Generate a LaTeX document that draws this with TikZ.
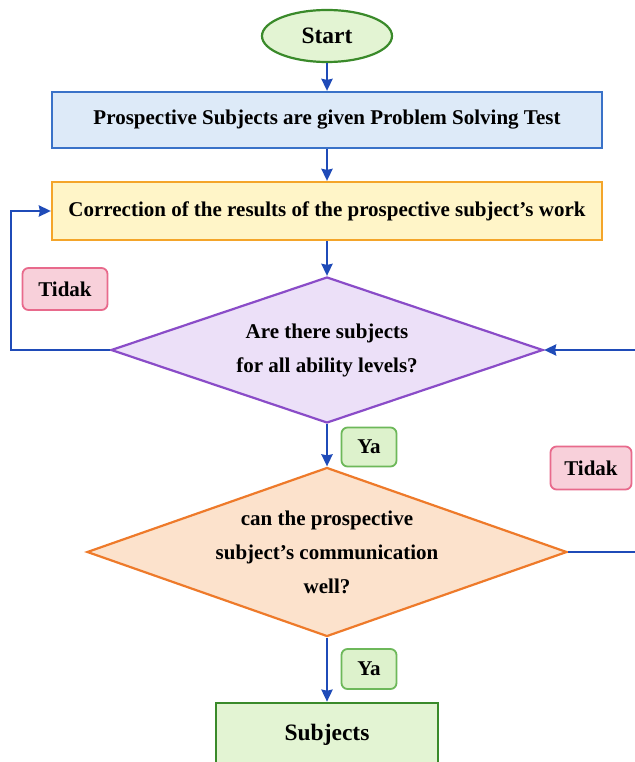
\documentclass[tikz,border=0pt]{standalone}
\usepackage{fontspec}
\setmainfont{Liberation Serif}
\usetikzlibrary{
  positioning,
  arrows.meta,
  shapes.geometric
}
\definecolor{startfill}{HTML}{E3F4D3}
\definecolor{startline}{HTML}{3A8A2A}
\definecolor{testfill}{HTML}{DDEAF8}
\definecolor{testline}{HTML}{3A72C8}
\definecolor{corrfill}{HTML}{FFF5C8}
\definecolor{corrline}{HTML}{F4A52A}
\definecolor{askfill}{HTML}{ECE0F8}
\definecolor{askline}{HTML}{8A4CC8}
\definecolor{commfill}{HTML}{FCE2CC}
\definecolor{commline}{HTML}{EE7A2A}
\definecolor{nofill}{HTML}{F8D0DA}
\definecolor{noline}{HTML}{E86A8C}
\definecolor{yesfill}{HTML}{DDF2CC}
\definecolor{yesline}{HTML}{6DB85A}
\definecolor{flowblue}{HTML}{1F4BB8}

\begin{document}
\begin{tikzpicture}[
  x=1pt, y=-1pt,
  txt/.style={font=\fontsize{21}{34}\selectfont\bfseries},
  big/.style={font=\fontsize{23.5}{28}\selectfont\bfseries},
  stepbox/.style={draw, line width=2.2pt, minimum height=56pt, minimum width=550pt, txt},
  decision/.style={diamond, draw, line width=2.2pt, aspect=3, inner sep=0pt, align=center, txt},
  tag/.style={draw, line width=1.8pt, rounded corners=6pt, txt},
  flow/.style={-{Stealth[length=12pt, width=11pt, inset=1pt]}, line width=2.6pt, flowblue}
]
  \useasboundingbox[fill=white] (0,0) rectangle (634,762);

  % Start and processing steps
  \node[ellipse, draw=startline, fill=startfill, line width=2.2pt,
        minimum width=130pt, minimum height=52pt, inner sep=0pt, big] (start) at (327,36) {Start};
  \node[stepbox, draw=testline, fill=testfill] (test) at (327,120)
    {Prospective Subjects are given Problem Solving Test};
  \node[stepbox, draw=corrline, fill=corrfill, minimum height=58pt] (corr) at (327,211)
    {Correction of the results of the prospective subject’s work};

  % Decisions
  \node[decision, draw=askline, fill=askfill, minimum width=432pt, minimum height=146pt] (ask)
    at (327,350) {Are there subjects\\for all ability levels?};
  \node[decision, draw=commline, fill=commfill, minimum width=480pt, minimum height=169pt] (comm)
    at (327,552) {can the prospective\\subject’s communication\\well?};

  % Result
  \node[draw=startline, fill=startfill, line width=2.6pt, minimum width=222pt,
        minimum height=64pt, big] (subj) at (327,735) {Subjects};

  % Answer tags
  \node[tag, draw=noline, fill=nofill, minimum width=85pt, minimum height=42pt] (no1) at (65,289) {Tidak};
  \node[tag, draw=noline, fill=nofill, minimum width=81pt, minimum height=43pt] (no2) at (591,468) {Tidak};
  \node[tag, draw=yesline, fill=yesfill, minimum width=55pt, minimum height=39pt] (yes1) at (369,447) {Ya};
  \node[tag, draw=yesline, fill=yesfill, minimum width=55pt, minimum height=40pt] (yes2) at (369,669) {Ya};

  % Loop corners
  \coordinate (loopL) at (11,350);
  \coordinate (loopR) at (660,552);

  % Connections
  \draw[flow] (start) -- (test);
  \draw[flow] (test) -- (corr);
  \draw[flow] (corr) -- (ask);
  \draw[flow] (ask) -- (comm);
  \draw[flow] (comm) -- (subj);
  \draw[flow] (ask.west) -- (loopL) |- (corr.west);
  \draw[flow] (comm.east) -- (loopR) |- (ask.east);
\end{tikzpicture}
\end{document}
